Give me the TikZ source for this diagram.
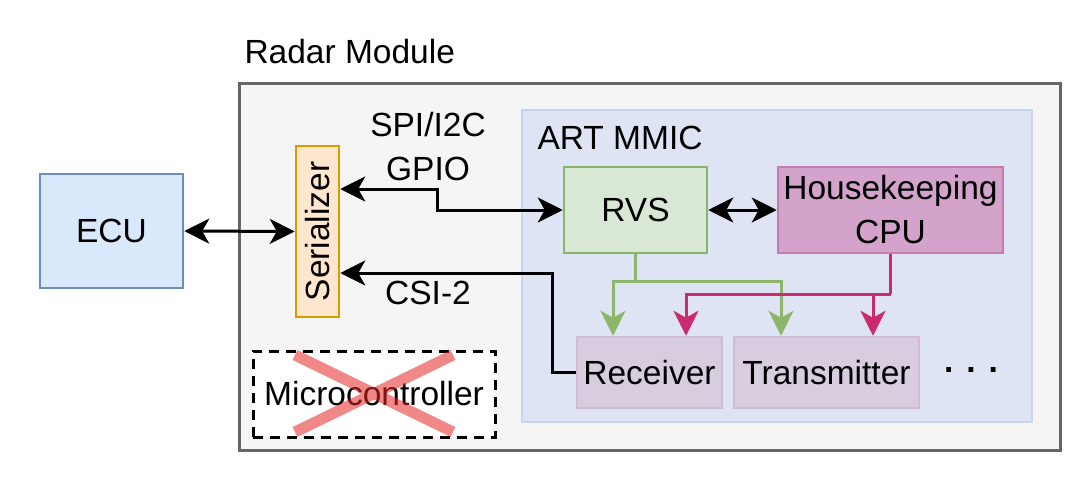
\documentclass[tikz,border=0pt]{standalone}
\usepackage{fontspec}
\setmainfont{Liberation Sans}
\usetikzlibrary{arrows.meta}
\definecolor{ecufill}{HTML}{DAE8FC}
\definecolor{ecudraw}{HTML}{6C8EBF}
\definecolor{serfill}{HTML}{FFE6CC}
\definecolor{serdraw}{HTML}{D79B00}
\definecolor{outfill}{HTML}{F5F5F5}
\definecolor{outdraw}{HTML}{666666}
\definecolor{artfill}{HTML}{DFE4F4}
\definecolor{artdraw}{HTML}{C9D4EF}
\definecolor{rvsfill}{HTML}{D9E7D5}
\definecolor{rvsdraw}{HTML}{88B46C}
\definecolor{cpufill}{HTML}{D3A3CB}
\definecolor{cpudraw}{HTML}{C47BAE}
\definecolor{rxfill}{HTML}{D7CDDF}
\definecolor{rxdraw}{HTML}{D3BCD3}
\definecolor{grnline}{HTML}{8DB66A}
\definecolor{magline}{HTML}{C92C6E}
\definecolor{xred}{HTML}{E62828}
\tikzset{
  blk/.style={line width=3pt, black},
  tip/.tip={Stealth[length=25pt,width=25pt,inset=7pt]},
  boxnode/.style={draw, line width=2.5pt, inner sep=0pt, align=center},
  grn/.style={line width=3pt, grnline},
  mag/.style={line width=3pt, magline},
}
\begin{document}
\begin{tikzpicture}[x=1pt,y=-1pt, font=\fontsize{33.5}{44}\selectfont]
\useasboundingbox (0,0) rectangle (1080,479);
% outer
\node[boxnode, draw=outdraw, fill=outfill, line width=3pt, minimum width=821pt, minimum height=367pt] (outer) at (649.5,266.5) {};
\node[anchor=west] (radar) at (241,52) {Radar Module};
% ART MMIC
\node[boxnode, draw=artdraw, fill=artfill, minimum width=510pt, minimum height=312pt] (art) at (777,266) {};
\node[anchor=west] (artlbl) at (534,138) {ART MMIC};
% boxes
\node[boxnode, draw=ecudraw, fill=ecufill, minimum width=143pt, minimum height=114pt] (ecu) at (111.5,231) {ECU};
\node[boxnode, draw=serdraw, fill=serfill, minimum width=43pt, minimum height=171pt] (ser) at (317.5,231.5) {};
\node[rotate=90] (serlbl) at (318,231.5) {Serializer};
\node[boxnode, draw=rvsdraw, fill=rvsfill, minimum width=143pt, minimum height=86pt] (rvs) at (635.5,210) {RVS};
\node[boxnode, draw=cpudraw, fill=cpufill, minimum width=225pt, minimum height=86pt] (cpu) at (890.5,210) {Housekeeping\\CPU};
\node[boxnode, draw=rxdraw, fill=rxfill, minimum width=145pt, minimum height=71pt] (rx) at (649.5,372.5) {Receiver};
\node[boxnode, draw=rxdraw, fill=rxfill, minimum width=185pt, minimum height=71pt] (tx) at (826.5,372.5) {Transmitter};
\node (dots) at (971,370) {\textbf{.\hspace{13pt}.\hspace{13pt}.}};
% microcontroller
\node[boxnode, fill=white, line width=3pt, dash pattern=on 10pt off 7pt, minimum width=242pt, minimum height=86pt] (mcu) at (374,394) {Microcontroller};
\draw[line width=11pt, xred, opacity=0.55] (295,355) -- (453,432) (453,355) -- (295,432);
% labels
\node[align=center] (spi) at (428,147) {SPI/I2C\\GPIO};
\node (csi) at (428,293) {CSI-2};
% connectors
\draw[blk, tip-tip] (ecu.east) -- (ser.west);
\coordinate (gp) at (437,189);
\draw[blk, tip-tip] (ser.east |- gp) -- (gp) |- (rvs.west);
\coordinate (cs) at (552,273);
\draw[blk, -tip] (rx.west) -| (cs) -- (ser.east |- cs);
\draw[blk, tip-tip] (rvs.east) -- (cpu.west);
\coordinate (gj) at (635.5,281);
\draw[grn] (rvs.south) -- (gj);
\draw[grn, -tip] (gj) -| ([xshift=-36.5pt]rx.north);
\draw[grn, -tip] (gj) -| ([xshift=-45.5pt]tx.north);
\coordinate (mj) at (890.5,294);
\draw[mag] (cpu.south) -- (mj);
\draw[mag, -tip] (mj) -| ([xshift=36.5pt]rx.north);
\draw[mag, -tip] ([xshift=46.5pt]tx.north |- mj) -- ([xshift=46.5pt]tx.north);
\end{tikzpicture}
\end{document}
